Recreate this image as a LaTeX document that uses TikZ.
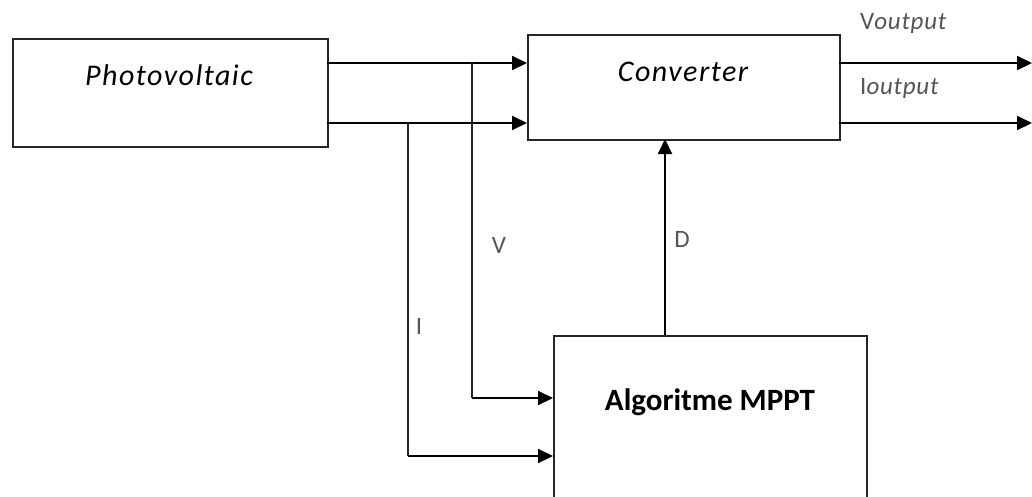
\documentclass[tikz,border=0pt]{standalone}
\usepackage{fontspec}
\setmainfont{Carlito}
\usetikzlibrary{arrows.meta}
\definecolor{lblgray}{RGB}{85,85,85}
\begin{document}
\begin{tikzpicture}[x=1pt,y=-1pt,
  blk/.style={draw=black!85, line width=2pt, rectangle, inner sep=0pt, anchor=north west},
  conn/.style={draw=black, line width=2pt, -{Triangle[length=15pt,width=14pt]}},
  wire/.style={draw=black!85, line width=1.8pt},
  lbl/.style={text=lblgray, font=\fontsize{25}{28}\selectfont\addfontfeature{LetterSpace=3}, inner sep=0pt},
  ttl/.style={font=\fontsize{30}{34}\selectfont\itshape\addfontfeature{LetterSpace=5}, inner sep=0pt}]
\useasboundingbox (0,0) rectangle (1032,496);
\clip (0,0) rectangle (1032,496);
% blocks
\node[blk, minimum width=315pt, minimum height=108pt] (pv) at (12,38) {};
\node[ttl] (pvt) at (169,75) {Photovoltaic};
\node[blk, minimum width=312pt, minimum height=105pt] (cv) at (527,34) {};
\node[ttl] (cvt) at (683,72) {Converter};
\node[blk, minimum width=313pt, minimum height=200pt] (mp) at (553,335) {};
\node[font=\fontsize{31}{35}\selectfont\bfseries, inner sep=0pt] (mpt) at (710,402) {Algoritme MPPT};
% coordinates
\coordinate (pvTop) at (327,63);
\coordinate (pvBot) at (327,123);
\coordinate (cvTop) at (527,63);
\coordinate (cvBot) at (527,123);
\coordinate (vTap) at (472,63);
\coordinate (iTap) at (408,123);
\coordinate (vCorner) at (472,398);
\coordinate (iCorner) at (408,456);
\coordinate (mpV) at (553,398);
\coordinate (mpI) at (553,456);
\coordinate (mpTop) at (665,335);
\coordinate (cvBottom) at (665,139);
\coordinate (outVs) at (839,63);
\coordinate (outIs) at (839,123);
\coordinate (outVe) at (1032,63);
\coordinate (outIe) at (1032,123);
% connectors
\draw[conn] (pvTop) -- (cvTop);
\draw[conn] (pvBot) -- (cvBot);
\draw[wire] (vTap) -- (vCorner);
\draw[conn] (vCorner) -- (mpV);
\draw[wire] (iTap) -- (iCorner);
\draw[conn] (iCorner) -- (mpI);
\draw[conn] (mpTop) -- (cvBottom);
\draw[conn] (outVs) -- (outVe);
\draw[conn] (outIs) -- (outIe);
% labels
\node[lbl] (lV) at (499,245) {V};
\node[lbl] (lI) at (419,326) {I};
\node[lbl] (lD) at (682,239) {D};
\node[lbl, anchor=west] (lVo) at (860,23) {V\textit{output}};
\node[lbl, anchor=west] (lIo) at (860,88) {I\textit{output}};
\end{tikzpicture}
\end{document}
